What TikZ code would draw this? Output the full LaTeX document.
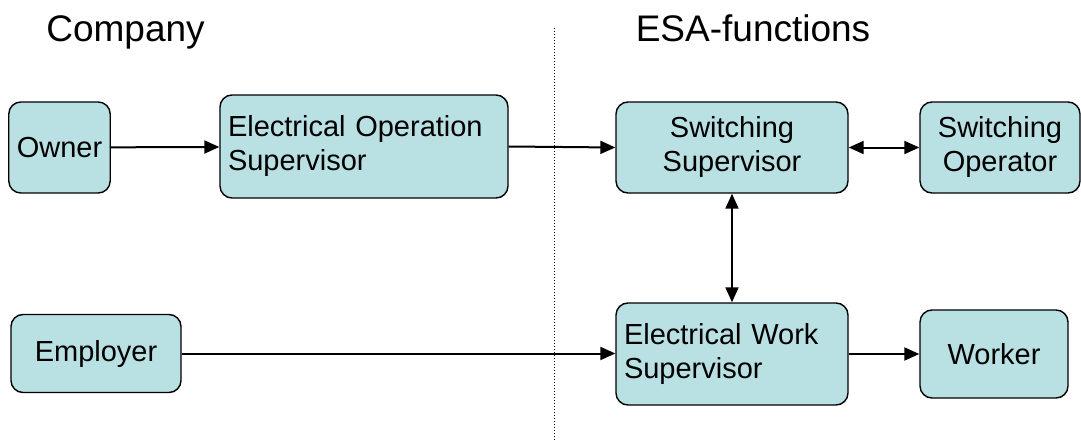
\documentclass[tikz,border=0pt]{standalone}
\usepackage{fontspec}
\setmainfont{Liberation Sans}
\usetikzlibrary{arrows.meta,positioning}
\definecolor{boxfill}{RGB}{185,224,227}
\tikzset{
  box/.style={draw=black, line width=1.4pt, fill=boxfill, rounded corners=12pt,
    inner xsep=8pt, inner ysep=0pt, font=\fontsize{29}{34}\selectfont, align=center},
  conn/.style={line width=2pt, -{Triangle[length=15pt,width=13pt]}},
  biconn/.style={line width=2pt, {Triangle[length=15pt,width=13pt]}-{Triangle[length=15pt,width=13pt]}},
  title/.style={font=\fontsize{37}{40}\selectfont, anchor=base},
  divider/.style={line width=1pt, dotted}
}
\begin{document}
\begin{tikzpicture}[x=1pt,y=-1pt]
\useasboundingbox (0,0) rectangle (1081,444);
\node[title] (company) at (125.5,42) {Company};
\node[title] (esa) at (753,42) {ESA-functions};
\coordinate (divtop) at (554,28);
\coordinate (divbot) at (554,440);
\draw[divider] (divtop) -- (divbot);
\node[box, minimum width=97pt, minimum height=91pt] (owner) at (59.5,147.5) {Owner};
\node[box, minimum width=288pt, minimum height=103pt, text width=272pt, align=left] (eos) at (364,146.5) {Electrical Operation\\Supervisor};
\node[box, minimum width=232pt, minimum height=91pt] (ss) at (732,147.5) {Switching\\Supervisor};
\node[box, minimum width=160pt, minimum height=91pt] (so) at (1000,147.5) {Switching\\Operator};
\node[box, minimum width=170pt, minimum height=78pt] (employer) at (96,353.5) {Employer};
\node[box, minimum width=232pt, minimum height=102pt, text width=216pt, align=left] (ews) at (732,354) {Electrical Work\\Supervisor};
\node[box, minimum width=148pt, minimum height=88pt] (worker) at (994,354) {Worker};
\draw[conn] (owner) -- (eos);
\draw[conn] (eos.east) -- (ss.west);
\draw[biconn] (ss) -- (so);
\draw[biconn] (ss) -- (ews);
\draw[conn] (employer) -- (employer -| ews.west);
\draw[conn] (ews) -- (worker);
\end{tikzpicture}
\end{document}
